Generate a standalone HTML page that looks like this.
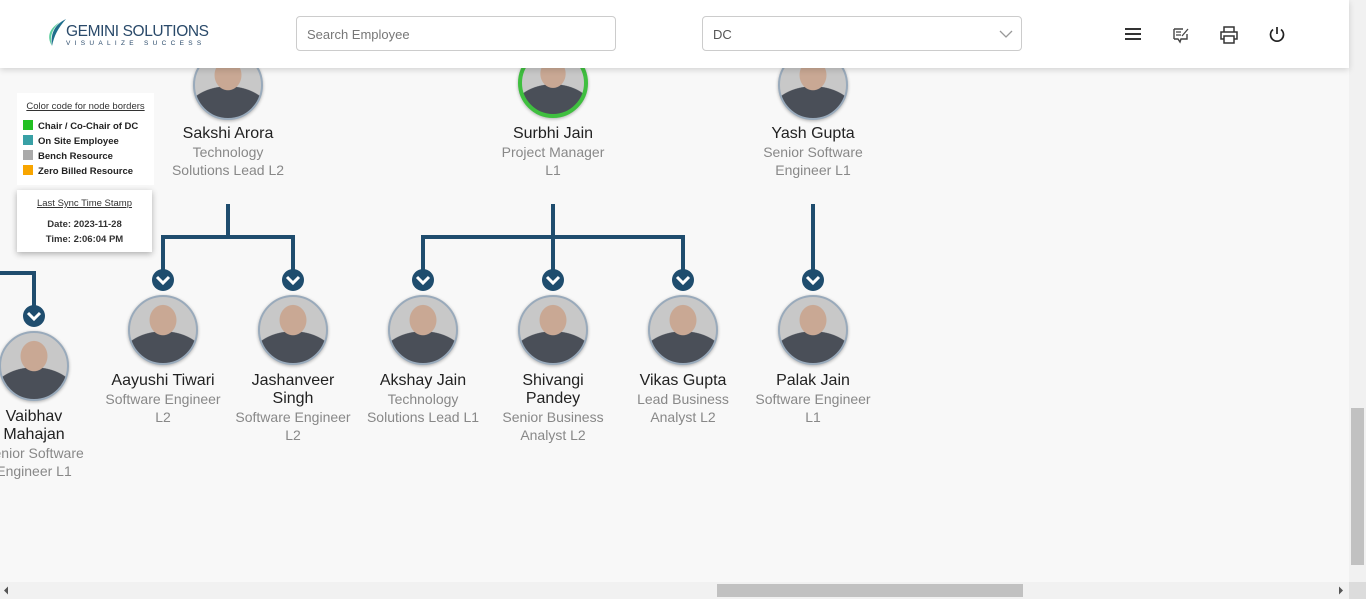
<!DOCTYPE html>
<html><head><meta charset="utf-8"><style>
*{margin:0;padding:0;box-sizing:border-box}
body{width:1366px;height:599px;overflow:hidden;background:#f8f8f8;font-family:"Liberation Sans",Arial,sans-serif;position:relative}
.hdr{position:absolute;left:0;top:0;width:1349px;height:68px;background:#fff;box-shadow:0 2px 6px rgba(0,0,0,.15);z-index:5}
.inp{position:absolute;top:16px;height:35px;border:1px solid #ccc;border-radius:4px;font-size:13px;color:#777;padding:10px 10px}
.ph{position:absolute;width:70px;height:70px;border-radius:50%;border:2px solid #9ab;background:radial-gradient(ellipse 40% 45% at 50% 35%,#c9a894 0 50%,transparent 52%),radial-gradient(ellipse 70% 50% at 50% 100%,#4a4f58 0 95%,transparent 97%),#c8c8c8;box-shadow:0 1px 3px rgba(0,0,0,.3)}
.nm{position:absolute;width:140px;text-align:center;font-size:16px;color:#222;line-height:18px}
.tt{font-size:14px;color:#888;line-height:18px}
.box{position:absolute;background:#fff;font-size:10px;color:#222}
</style></head><body>
<svg width="1366" height="599" style="position:absolute;left:0;top:0">
<g stroke="#1f4d6e" stroke-width="4" fill="none">
<path d="M228 204V237M163 237H293M163 235V270M293 235V270"/>
<path d="M553 204V237M423 237H683M423 235V270M553 237V270M683 235V270"/>
<path d="M813 204V270"/>
<path d="M0 273H34V306"/>
</g>
<g fill="#1f4d6e">
<circle cx="163" cy="280" r="11"/><circle cx="293" cy="280" r="11"/><circle cx="423" cy="280" r="11"/><circle cx="553" cy="280" r="11"/><circle cx="683" cy="280" r="11"/><circle cx="813" cy="280" r="11"/><circle cx="34" cy="316" r="11"/>
</g>
<g stroke="#fff" stroke-width="3" fill="none">
<path d="M157 277l6 6 6-6M287 277l6 6 6-6M417 277l6 6 6-6M547 277l6 6 6-6M677 277l6 6 6-6M807 277l6 6 6-6M28 313l6 6 6-6"/>
</g>
</svg>

<div class="ph" style="left:193px;top:50px"></div>
<div class="ph" style="left:518px;top:48px;border:4px solid #3fbf3f"></div>
<div class="ph" style="left:778px;top:50px"></div>
<div class="ph" style="left:128px;top:295px"></div>
<div class="ph" style="left:258px;top:295px"></div>
<div class="ph" style="left:388px;top:295px"></div>
<div class="ph" style="left:518px;top:295px"></div>
<div class="ph" style="left:648px;top:295px"></div>
<div class="ph" style="left:778px;top:295px"></div>
<div class="ph" style="left:-1px;top:331px"></div>

<div class="nm" style="left:158px;top:125px">Sakshi Arora<div class="tt">Technology<br>Solutions Lead L2</div></div>
<div class="nm" style="left:483px;top:125px">Surbhi Jain<div class="tt">Project Manager<br>L1</div></div>
<div class="nm" style="left:743px;top:125px">Yash Gupta<div class="tt">Senior Software<br>Engineer L1</div></div>
<div class="nm" style="left:93px;top:372px">Aayushi Tiwari<div class="tt">Software Engineer<br>L2</div></div>
<div class="nm" style="left:223px;top:372px">Jashanveer<br>Singh<div class="tt">Software Engineer<br>L2</div></div>
<div class="nm" style="left:353px;top:372px">Akshay Jain<div class="tt">Technology<br>Solutions Lead L1</div></div>
<div class="nm" style="left:483px;top:372px">Shivangi<br>Pandey<div class="tt">Senior Business<br>Analyst L2</div></div>
<div class="nm" style="left:613px;top:372px">Vikas Gupta<div class="tt">Lead Business<br>Analyst L2</div></div>
<div class="nm" style="left:743px;top:372px">Palak Jain<div class="tt">Software Engineer<br>L1</div></div>
<div class="nm" style="left:-36px;top:408px">Vaibhav<br>Mahajan<div class="tt">Senior Software<br>Engineer L1</div></div>

<div class="box" style="left:17px;top:93px;width:137px;height:92px;padding:8px 6px">
<div style="text-decoration:underline;font-size:9.5px;color:#333;text-align:center;margin-bottom:7px">Color code for node borders</div>
<div style="font-weight:bold;font-size:9.5px;line-height:15px">
<div><span style="display:inline-block;width:10px;height:10px;background:#22c022;margin-right:5px;vertical-align:-1px"></span>Chair / Co-Chair of DC</div>
<div><span style="display:inline-block;width:10px;height:10px;background:#38a0a5;margin-right:5px;vertical-align:-1px"></span>On Site Employee</div>
<div><span style="display:inline-block;width:10px;height:10px;background:#aaa;margin-right:5px;vertical-align:-1px"></span>Bench Resource</div>
<div><span style="display:inline-block;width:10px;height:10px;background:#f8a500;margin-right:5px;vertical-align:-1px"></span>Zero Billed Resource</div>
</div></div>
<div class="box" style="left:17px;top:190px;width:135px;height:62px;text-align:center;box-shadow:0 2px 6px rgba(0,0,0,.3);padding-top:8px;font-size:9.5px">
<div style="text-decoration:underline;color:#333;margin-bottom:8px">Last Sync Time Stamp</div>
<div style="font-weight:bold;line-height:15px;color:#333">Date: 2023-11-28<br>Time: 2:06:04 PM</div></div>

<div class="hdr">
<svg style="position:absolute;left:46px;top:18px" width="24" height="30"><path d="M20 1C10 6 4 14 6 28C8 18 12 10 20 1Z" fill="#1f6e8c"/><path d="M14 4C4 10 0 18 6 28C3 18 7 10 14 4Z" fill="#5fcf9f"/></svg>
<div style="position:absolute;left:66px;top:23px;font-size:15.5px;color:#2a4a6a;letter-spacing:-0.4px">GEMINI SOLUTIONS</div>
<div style="position:absolute;left:66px;top:40px;font-size:6.5px;color:#2a4a6a;letter-spacing:4.3px">VISUALIZE SUCCESS</div>
<div class="inp" style="left:296px;width:320px">Search Employee</div>
<div class="inp" style="left:702px;width:320px;color:#555">DC<svg style="position:absolute;right:8px;top:13px" width="14" height="9"><path d="M1 1l6 6 6-6" stroke="#999" fill="none" stroke-width="1.3"/></svg></div>
<svg style="position:absolute;left:1124px;top:26px" width="18" height="16"><path d="M1 3H17M1 8H17M1 13H17" stroke="#333" stroke-width="2"/></svg>
<svg style="position:absolute;left:1172px;top:26px" width="18" height="18"><path d="M2 3H11M2 13H6L8 16L9 13H15V8M2 3V13" stroke="#444" fill="none" stroke-width="1.4"/><path d="M4 6H9M4 9H9M10 10L16 3" stroke="#444" stroke-width="1.3"/></svg>
<svg style="position:absolute;left:1220px;top:26px" width="18" height="18"><path d="M4 6V1H14V6M4 13H1V6H17V13H14M4 10H14V17H4Z" stroke="#333" fill="none" stroke-width="1.5"/></svg>
<svg style="position:absolute;left:1268px;top:26px" width="18" height="18"><path d="M9 1V8M5 3.5A6.5 6.5 0 1 0 13 3.5" stroke="#222" fill="none" stroke-width="1.7"/></svg>
</div>

<div style="position:absolute;left:1349px;top:0;width:17px;height:582px;background:#f1f1f1"></div>
<div style="position:absolute;left:1351px;top:408px;width:13px;height:157px;background:#c1c1c1"></div>
<div style="position:absolute;left:0;top:582px;width:1349px;height:17px;background:#f1f1f1"></div>
<div style="position:absolute;left:717px;top:584px;width:306px;height:13px;background:#c1c1c1"></div>
<div style="position:absolute;left:1349px;top:582px;width:17px;height:17px;background:#dcdcdc"></div>
<svg style="position:absolute;left:0;top:582px" width="1366" height="17"><path d="M4 8.5l4-4v8zM1343 8.5l-4-4v8z" fill="#555"/></svg>
</body></html>
